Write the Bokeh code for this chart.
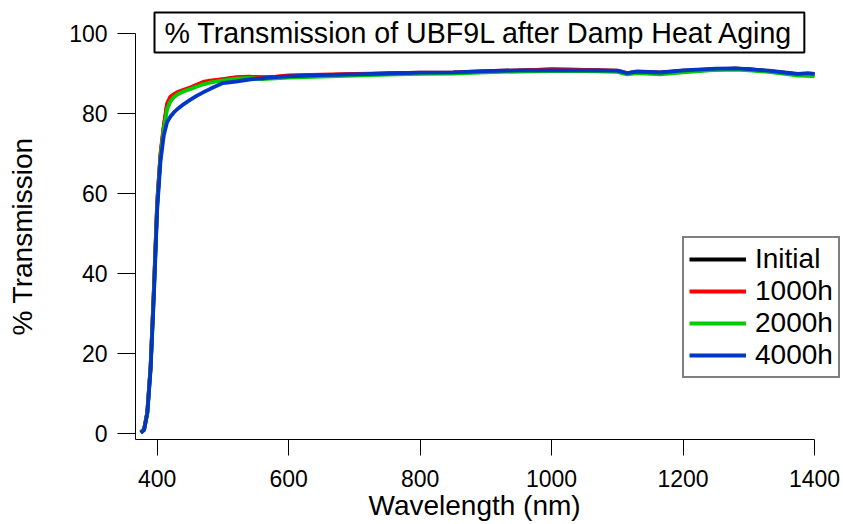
from bokeh.plotting import figure
from bokeh.models import Legend, LegendItem, Title, FixedTicker, Range1d
from bokeh.embed import file_html
from bokeh.resources import INLINE

# ---- data ----
wavelength = [375, 380, 385, 390, 395, 400, 405, 410, 415, 420, 425, 430, 440, 450, 460,
              470, 480, 500, 520, 540, 560, 580, 600, 650, 700, 750, 800, 850, 900, 950,
              1000, 1050, 1100, 1115, 1130, 1165, 1200, 1250, 1280, 1300, 1330, 1355,
              1375, 1390, 1400]

t_initial = [0.3, 1.0, 5.3, 16.8, 36.0, 57.5, 69.5, 76.5, 82.0, 83.8, 84.5, 85.0, 85.7, 86.3, 87.0,
             87.7, 88.0, 88.5, 88.9, 89.0, 89.0, 89.1, 89.4, 89.6, 89.8, 90.0, 90.1, 90.1, 90.5, 90.7,
             91.0, 90.9, 90.6, 90.0, 90.4, 90.2, 90.6, 91.0, 91.2, 91.0, 90.6, 90.1,
             89.8, 89.9, 89.7]

t_1000h = [0.3, 1.0, 5.5, 17.0, 36.5, 58.0, 70.0, 77.0, 82.5, 84.2, 84.8, 85.3, 85.9, 86.5, 87.2,
           87.9, 88.2, 88.6, 89.1, 89.2, 89.0, 89.2, 89.5, 89.7, 89.9, 90.0, 90.2, 90.3, 90.6, 90.8,
           91.0, 90.9, 90.7, 90.1, 90.4, 90.2, 90.7, 91.1, 91.2, 91.1, 90.6, 90.2,
           89.8, 89.9, 89.7]

t_2000h = [0.2, 0.9, 5.2, 16.5, 35.5, 57.0, 69.0, 76.0, 81.0, 83.0, 84.0, 84.7, 85.5, 86.1, 86.7,
           87.3, 87.7, 88.3, 88.7, 88.9, 88.6, 88.8, 89.0, 89.2, 89.5, 89.7, 89.9, 90.0, 90.3, 90.5,
           90.6, 90.6, 90.4, 89.8, 90.1, 89.8, 90.3, 90.9, 91.0, 90.8, 90.4, 89.9,
           89.5, 89.4, 89.3]

t_4000h = [0.2, 0.8, 5.0, 16.0, 34.5, 56.0, 68.0, 74.5, 77.8, 79.2, 80.2, 81.0, 82.3, 83.4, 84.4,
           85.3, 86.1, 87.6, 88.0, 88.5, 88.8, 89.1, 89.3, 89.6, 89.8, 90.0, 90.2, 90.3, 90.6, 90.8,
           90.8, 90.8, 90.7, 90.1, 90.5, 90.25, 90.8, 91.2, 91.3, 91.1, 90.7, 90.25,
           89.9, 90.1, 89.9]

series_names = ["Initial", "1000h", "2000h", "4000h"]
series_values = [t_initial, t_1000h, t_2000h, t_4000h]
series_colors = ["#000000", "#ff0000", "#00cc00", "#0036c8"]

x_ticks = [400, 600, 800, 1000, 1200, 1400]
y_ticks = [0, 20, 40, 60, 80, 100]
x_axis_bounds = (367, 1400)
y_axis_bounds = (-1.5, 100)

title_text = "% Transmission of UBF9L after Damp Heat Aging"
x_label = "Wavelength (nm)"
y_label = "% Transmission"

FONT = "Liberation Sans"

p = figure(width=843, height=524,
           x_range=Range1d(367, 1444.1), y_range=Range1d(-1.5, 100),
           output_backend="svg", toolbar_location=None,
           min_border_left=135, min_border_top=33,
           min_border_right=0, min_border_bottom=85)

p.outline_line_color = None
p.xgrid.visible = False
p.ygrid.visible = False
p.background_fill_color = "white"
p.border_fill_color = "white"

renderers = []
for vals, col in zip(series_values, series_colors):
    r = p.line(wavelength, vals, line_color=col, line_width=3.8)
    renderers.append(r)

# axes
p.xaxis.ticker = FixedTicker(ticks=x_ticks)
p.yaxis.ticker = FixedTicker(ticks=y_ticks)
p.xaxis.bounds = x_axis_bounds
p.yaxis.bounds = y_axis_bounds
for ax in (p.xaxis, p.yaxis):
    ax.major_tick_in = 0
    ax.minor_tick_in = 0
    ax.minor_tick_out = 0
    ax.axis_line_color = "black"
    ax.axis_line_width = 1
    ax.major_tick_line_color = "black"
    ax.major_tick_line_width = 1
    ax.major_label_text_font = FONT
    ax.major_label_text_font_size = "23px"
    ax.major_label_text_color = "black"
    ax.axis_label_text_font = FONT
    ax.axis_label_text_font_size = "28px"
    ax.axis_label_text_font_style = "normal"
    ax.axis_label_text_color = "black"

p.xaxis.major_tick_out = 16
p.xaxis.major_label_standoff = 14

p.yaxis.major_tick_out = 18
p.yaxis.major_label_standoff = 10
p.yaxis.axis_label = y_label
p.yaxis.axis_label_standoff = 28

# x-axis label, placed under the tick labels
xlab = Title(text=x_label, align="left", offset=233, standoff=0, vertical_align="top",
             text_font=FONT, text_font_size="28px", text_font_style="normal",
             text_color="black")
p.add_layout(xlab, "below")

# boxed title (in the panel above the frame)
title = Title(text=title_text, align="left", offset=19, standoff=-38, vertical_align="bottom",
              text_font=FONT, text_font_size="28.6px", text_font_style="normal",
              text_color="black",
              border_line_color="black", border_line_width=2,
              background_fill_color="white", padding=(10, 10, 4, 4))
p.add_layout(title, "above")

legend = Legend(items=[LegendItem(label=n, renderers=[r]) for n, r in zip(series_names, renderers)],
                location=(547, 61), glyph_width=57, glyph_height=30, label_height=30,
                label_standoff=9, spacing=0, padding=5, margin=0,
                border_line_color="black", border_line_width=2,
                background_fill_color="white", background_fill_alpha=1,
                label_text_font=FONT, label_text_font_size="28px", label_text_color="black")
p.add_layout(legend)

open("out.html", "w").write(file_html(p, INLINE))
